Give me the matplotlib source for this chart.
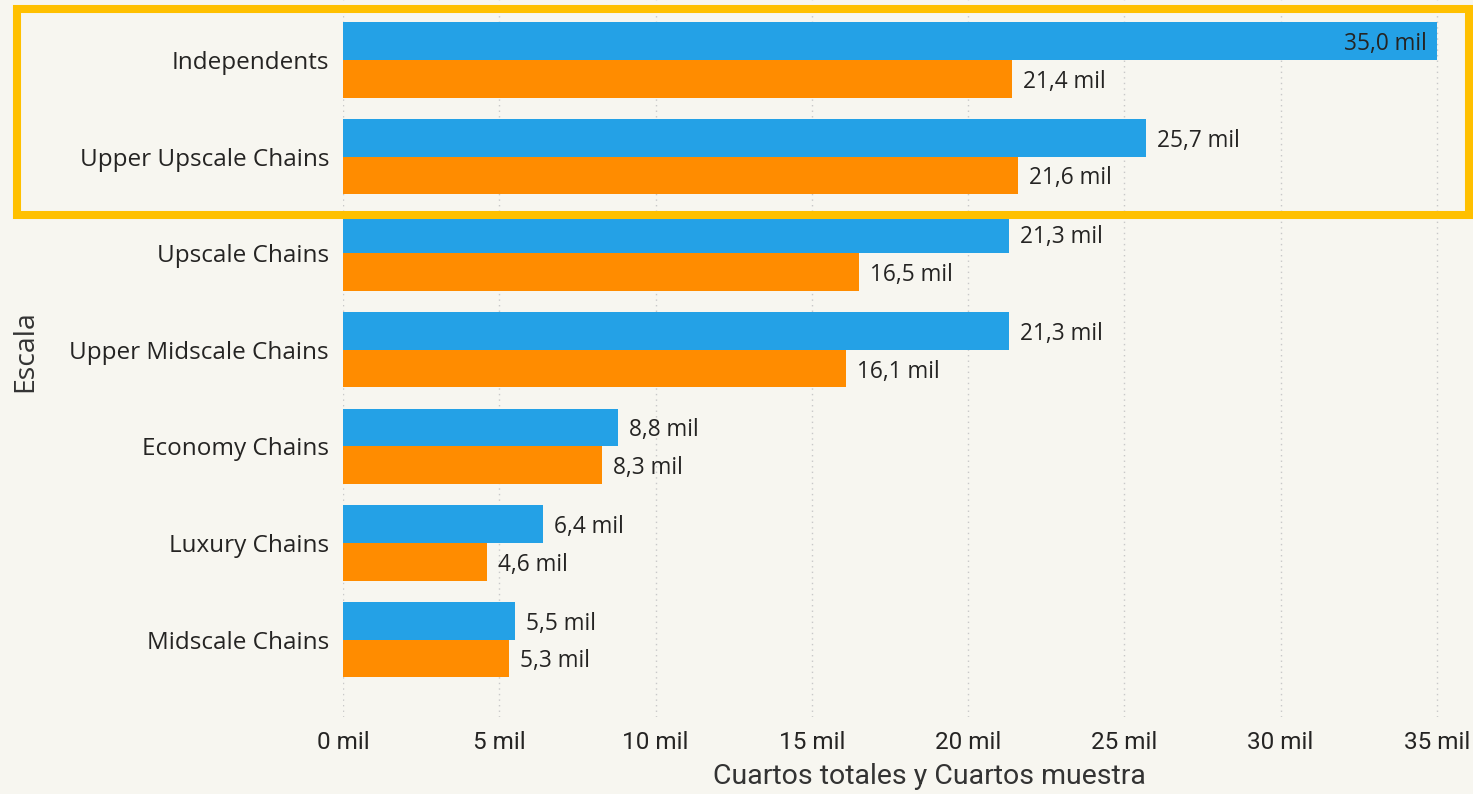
import matplotlib.pyplot as plt
from matplotlib.patches import Rectangle

categories = ["Independents", "Upper Upscale Chains", "Upscale Chains", "Upper Midscale Chains",
              "Economy Chains", "Luxury Chains", "Midscale Chains"]
cuartos_totales = [35.0, 25.7, 21.3, 21.3, 8.8, 6.4, 5.5]
cuartos_muestra = [21.4, 21.6, 16.5, 16.1, 8.3, 4.6, 5.3]
x_ticks = [0, 5, 10, 15, 20, 25, 30, 35]

bg = "#F7F6F0"
blue = "#24A1E6"
orange = "#FF8C00"
txt = "#252423"

W, H = 1473, 794
fig = plt.figure(figsize=(W / 100, H / 100), dpi=100, facecolor=bg)
ax = fig.add_axes([343 / W, 1 - 717 / H, 1097 / W, 717 / H], facecolor=bg)

bw = 0.39
ys = list(range(len(categories)))
ax.barh([y - bw / 2 for y in ys], cuartos_totales, height=bw, color=blue, zorder=2)
ax.barh([y + bw / 2 for y in ys], cuartos_muestra, height=bw, color=orange, zorder=2)

def fmt(v):
    return f"{v:.1f}".replace(".", ",") + " mil"

xmax = 35.1
lab = dict(va="center", fontsize=16.3, color=txt, family="Open Sans", zorder=3)
for y, v in zip(ys, cuartos_totales):
    if v > 33:
        ax.text(v - 0.32, y - bw / 2 + 0.03, fmt(v), ha="right", **lab)
    else:
        ax.text(v + 0.35, y - bw / 2 + 0.03, fmt(v), ha="left", **lab)
for y, v in zip(ys, cuartos_muestra):
    ax.text(v + 0.35, y + bw / 2 + 0.03, fmt(v), ha="left", **lab)

ax.set_xlim(0, xmax)
ax.set_ylim(6.8, -0.62)
ax.set_yticks(ys)
ax.set_yticklabels(categories, fontsize=17.5, color=txt, family="Open Sans")
ax.set_xticks(x_ticks)
ax.set_xticklabels([f"{t} mil" for t in x_ticks], fontsize=17.5, color=txt, family="Roboto")
ax.tick_params(axis="both", length=0)
ax.tick_params(axis="y", pad=10)
ax.tick_params(axis="x", pad=10)
for s in ax.spines.values():
    s.set_visible(False)
ax.grid(axis="x", color="#C8C8C8", linestyle=(0, (1, 3)), linewidth=1, zorder=0)

ax.set_xlabel("Cuartos totales y Cuartos muestra", fontsize=20.5, color="#333333", family="Roboto")
ax.xaxis.label.set_va("center")
ax.xaxis.set_label_coords(0.535, -0.083)
ax.set_ylabel("Escala", fontsize=20.5, color="#333333", family="Open Sans")
ax.yaxis.set_label_coords(-0.277, 0.51)

fig.patches.append(Rectangle((17 / W, 1 - 214.5 / H), 1452 / W, 205.5 / H, fill=False,
                             edgecolor="#FFC000", linewidth=5.8, transform=fig.transFigure))

fig.savefig("out.png", dpi=100, facecolor=bg)
